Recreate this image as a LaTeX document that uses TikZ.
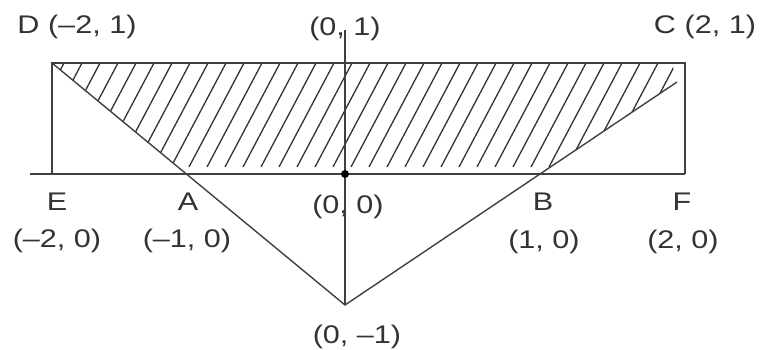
\documentclass[tikz,border=0pt]{standalone}
\usepackage{fontspec}
\setmainfont[FakeStretch=1.2]{Liberation Sans}

\begin{document}
\begin{tikzpicture}[x=1pt,y=1pt,
  edge/.style={line width=1.4pt,black!75},
  hatch/.style={line width=1.3pt,black!80},
  lbl/.style={anchor=base,inner sep=0pt,text=black!80,font=\fontsize{25.5}{30}\selectfont}]
  \useasboundingbox (0,0) rectangle (761,349);
  % points
  \coordinate (D) at (52,286);
  \coordinate (C) at (685,286);
  \coordinate (E) at (52,175);
  \coordinate (F) at (685,175);
  \coordinate (O) at (345,175);
  \coordinate (P) at (345,44);
  \coordinate (T) at (345,319);
  \coordinate (L) at (30,175);
  \coordinate (Q) at (677,267);
  % shaded region
  \begin{scope}
    \clip (D) -- (672,286) -- (Q) -- (550,182) -- (178,182) -- cycle;
    \foreach \x in {9,27,...,693}
      \draw[hatch] (\x,182) -- (\x+55,286);
  \end{scope}
  % rectangle and axes
  \draw[edge] (E) -- (D) -- (C) -- (F);
  \draw[edge] (L) -- (F);
  \draw[edge] (T) -- (P);
  \draw[edge] (D) -- (P) -- (Q);
  \fill (O) circle (4pt);
  % labels
  \node[lbl] (lD) at (77,316) {D (–2, 1)};
  \node[lbl] (lT) at (345,313) {(0, 1)};
  \node[lbl] (lC) at (705,316) {C (2, 1)};
  \node[lbl] (lE) at (57,139) {E};
  \node[lbl] (cE) at (57,102) {(–2, 0)};
  \node[lbl] (lA) at (188,139) {A};
  \node[lbl] (cA) at (187,102) {(–1, 0)};
  \node[lbl] (lO) at (348,136) {(0, 0)};
  \node[lbl] (lB) at (543,139) {B};
  \node[lbl] (cB) at (544,101) {(1, 0)};
  \node[lbl] (lF) at (682,139) {F};
  \node[lbl] (cF) at (683,101) {(2, 0)};
  \node[lbl] (lP) at (357,6) {(0, –1)};
\end{tikzpicture}
\end{document}
